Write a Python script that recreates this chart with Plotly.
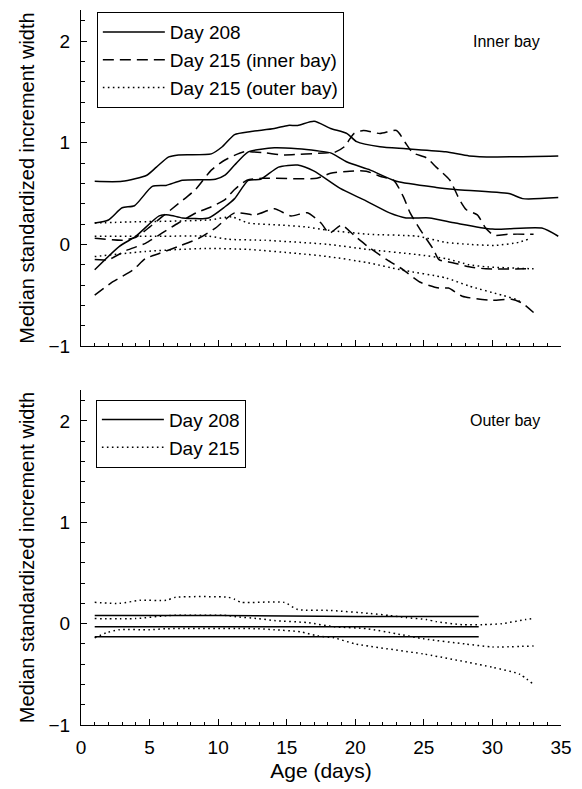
import plotly.graph_objects as go

# ---------------- Top panel (Inner bay) ----------------
in_s1_x = [1, 3, 4.8, 5.5, 6.4, 7.1, 9.5, 10.3, 11.2, 12.4, 14.1, 15.1, 15.8, 17.0, 18.2, 19.4, 20.1, 21.8, 23.7, 26.6, 28.3, 30.2, 34.8]
in_s1_y = [0.62, 0.62, 0.68, 0.76, 0.86, 0.88, 0.89, 0.96, 1.08, 1.11, 1.14, 1.17, 1.17, 1.21, 1.14, 1.09, 1.01, 0.96, 0.94, 0.91, 0.87, 0.86, 0.87]

in_s2_x = [1, 2, 3, 3.9, 5.2, 6.2, 7.4, 9.8, 10.5, 11.2, 12.2, 14.1, 15.8, 17.2, 18.2, 19.4, 21.1, 23.0, 25.9, 27.3, 31.2, 32.2, 34.8]
in_s2_y = [0.21, 0.24, 0.36, 0.38, 0.57, 0.58, 0.63, 0.64, 0.68, 0.78, 0.91, 0.95, 0.94, 0.92, 0.90, 0.81, 0.73, 0.62, 0.56, 0.54, 0.50, 0.45, 0.46]

in_s3_x = [1, 2.8, 4.0, 5.7, 6.4, 7.4, 9.3, 10.5, 11.2, 12.2, 13.1, 14.4, 15.8, 17.0, 18.9, 20.6, 22.5, 23.7, 25.4, 27.3, 30.0, 33.6, 34.8]
in_s3_y = [-0.25, -0.02, 0.08, 0.28, 0.29, 0.26, 0.26, 0.37, 0.45, 0.63, 0.64, 0.76, 0.78, 0.72, 0.55, 0.44, 0.31, 0.26, 0.26, 0.21, 0.15, 0.16, 0.08]

in_d1_x = [1, 3.05, 4.0, 5.0, 5.9, 7.1, 8.35, 9.5, 10.5, 11.9, 13.4, 14.8, 18.0, 18.4, 19.2, 19.9, 20.6, 21.8, 23.0, 23.7, 24.2, 25.2, 25.9, 26.9, 27.6, 28.1, 28.9, 29.5, 30.1, 31.2, 33.0]
in_d1_y = [0.06, 0.04, 0.07, 0.17, 0.27, 0.40, 0.54, 0.73, 0.83, 0.91, 0.90, 0.88, 0.90, 0.90, 0.96, 1.09, 1.12, 1.09, 1.12, 0.99, 0.90, 0.85, 0.76, 0.63, 0.44, 0.34, 0.29, 0.16, 0.09, 0.10, 0.10]

in_d2_x = [1, 2.0, 3.3, 4.7, 5.9, 7.1, 8.4, 9.5, 10.5, 11.2, 12.1, 13.2, 17.2, 18.2, 19.6, 20.8, 21.8, 22.8, 23.5, 24.0, 24.9, 25.7, 26.1, 27.1, 28.3, 29.5, 33.0]
in_d2_y = [-0.15, -0.15, -0.06, 0.01, 0.11, 0.21, 0.31, 0.37, 0.44, 0.54, 0.63, 0.65, 0.65, 0.70, 0.72, 0.72, 0.67, 0.63, 0.47, 0.31, 0.11, -0.05, -0.15, -0.18, -0.22, -0.24, -0.24]

in_d3_x = [1, 2.3, 3.8, 4.7, 5.7, 7.1, 8.6, 9.8, 11.2, 12.7, 14.1, 15.3, 16.5, 17.5, 18.1, 19.0, 19.9, 20.9, 22.3, 23.5, 24.7, 26.1, 26.8, 27.8, 30.0, 31.4, 32.2, 33.0]
in_d3_y = [-0.50, -0.37, -0.25, -0.14, -0.09, -0.02, 0.06, 0.16, 0.31, 0.29, 0.35, 0.28, 0.31, 0.21, 0.11, 0.19, 0.09, -0.02, -0.15, -0.25, -0.37, -0.43, -0.43, -0.51, -0.55, -0.54, -0.58, -0.67]

in_t1_x = [1, 3.5, 9.3, 11.0, 12.2, 14.6, 16.5, 18.0, 20.9, 24.5, 26.6, 28.3, 30.2, 31.9, 32.6]
in_t1_y = [0.21, 0.22, 0.24, 0.27, 0.21, 0.19, 0.17, 0.14, 0.10, 0.08, 0.02, 0.00, -0.01, 0.02, 0.05]

in_t2_x = [1, 5.9, 9.3, 10.75, 13.4, 18.0, 20.9, 24.5, 26.6, 28.3, 29.5, 32.9]
in_t2_y = [0.08, 0.08, 0.08, 0.05, 0.04, 0.00, -0.05, -0.10, -0.14, -0.20, -0.22, -0.24]

in_t3_x = [1, 4.7, 7.1, 9.3, 12.2, 15.8, 18.0, 20.9, 23.3, 26.6, 28.3, 30.7, 31.7, 32.2]
in_t3_y = [-0.12, -0.07, -0.05, -0.04, -0.05, -0.09, -0.12, -0.18, -0.25, -0.33, -0.41, -0.50, -0.54, -0.58]

# ---------------- Bottom panel (Outer bay) ----------------
out_s1_x = [1, 10, 20, 29]
out_s1_y = [0.08, 0.08, 0.07, 0.07]
out_s2_x = [1, 10, 20, 29]
out_s2_y = [-0.03, -0.03, -0.03, -0.03]
out_s3_x = [1, 10, 20, 29]
out_s3_y = [-0.13, -0.13, -0.13, -0.13]

out_t1_x = [1, 2.8, 4.3, 6.2, 6.9, 10.75, 11.2, 11.7, 14.8, 15.8, 18.2, 21.1, 22.5, 23.7, 25.2, 25.9, 27.8, 29.3, 30.7, 32.4, 33.0]
out_t1_y = [0.21, 0.20, 0.23, 0.23, 0.26, 0.26, 0.24, 0.21, 0.21, 0.14, 0.13, 0.10, 0.08, 0.06, 0.04, 0.02, -0.01, -0.01, 0.00, 0.04, 0.05]

out_t2_x = [1, 4.0, 6.4, 10.75, 11.2, 12.9, 14.1, 16.5, 18.45, 20.85, 23, 25, 28, 30, 33]
out_t2_y = [0.05, 0.05, 0.08, 0.08, 0.07, 0.05, 0.03, 0.01, -0.03, -0.05, -0.10, -0.15, -0.20, -0.23, -0.22]

out_t3_x = [1, 1.85, 2.8, 5.0, 6.2, 12.9, 14.1, 16.0, 17.2, 18.45, 20, 25, 30, 32, 33]
out_t3_y = [-0.14, -0.09, -0.06, -0.06, -0.05, -0.05, -0.06, -0.08, -0.12, -0.14, -0.20, -0.30, -0.43, -0.50, -0.60]

FONT = "Liberation Sans, Arial, sans-serif"
DASH = "11px,6px"
DOT = "1.6px,3.4px"
LW = 1.5

fig = go.Figure()

def add(x, y, dash, name, show, xa, ya, legend):
    fig.add_trace(go.Scatter(
        x=x, y=y, mode="lines", name=name, showlegend=show,
        line=dict(color="black", width=LW, dash=dash, shape="spline", smoothing=0.6),
        xaxis=xa, yaxis=ya, legend=legend, hoverinfo="skip"))

# top panel
add(in_s1_x, in_s1_y, "solid", "Day 208", True, "x2", "y2", "legend")
add(in_s2_x, in_s2_y, "solid", "Day 208", False, "x2", "y2", "legend")
add(in_s3_x, in_s3_y, "solid", "Day 208", False, "x2", "y2", "legend")
add(in_d1_x, in_d1_y, DASH, "Day 215 (inner bay)", True, "x2", "y2", "legend")
add(in_d2_x, in_d2_y, DASH, "Day 215 (inner bay)", False, "x2", "y2", "legend")
add(in_d3_x, in_d3_y, DASH, "Day 215 (inner bay)", False, "x2", "y2", "legend")
add(in_t1_x, in_t1_y, DOT, "Day 215 (outer bay)", True, "x2", "y2", "legend")
add(in_t2_x, in_t2_y, DOT, "Day 215 (outer bay)", False, "x2", "y2", "legend")
add(in_t3_x, in_t3_y, DOT, "Day 215 (outer bay)", False, "x2", "y2", "legend")

# bottom panel
add(out_s1_x, out_s1_y, "solid", "Day 208", True, "x", "y", "legend2")
add(out_s2_x, out_s2_y, "solid", "Day 208", False, "x", "y", "legend2")
add(out_s3_x, out_s3_y, "solid", "Day 208", False, "x", "y", "legend2")
add(out_t1_x, out_t1_y, DOT, "Day 215", True, "x", "y", "legend2")
add(out_t2_x, out_t2_y, DOT, "Day 215", False, "x", "y", "legend2")
add(out_t3_x, out_t3_y, DOT, "Day 215", False, "x", "y", "legend2")

yrange = [-1, 2.305]
common_y = dict(range=yrange, dtick=1, tick0=0, ticks="inside", ticklen=6, tickwidth=1,
                tickcolor="black", showline=True, linecolor="black", linewidth=1,
                showgrid=False, zeroline=False, ticklabelstandoff=6,
                minor=dict(dtick=0.2, tick0=0, ticks="inside", ticklen=4, tickcolor="black", showgrid=False),
                tickfont=dict(size=19, color="black"),
                title=dict(text="Median standardized increment width", font=dict(size=20, color="black"), standoff=8))
common_x = dict(range=[0, 35], dtick=5, tick0=0, ticks="inside", ticklen=6, tickwidth=1,
                tickcolor="black", showline=True, linecolor="black", linewidth=1,
                showgrid=False, zeroline=False, ticklabelstandoff=5,
                minor=dict(dtick=1, tick0=0, ticks="inside", ticklen=3, tickcolor="black", showgrid=False),
                tickfont=dict(size=19, color="black"))

fig.update_layout(
    width=582, height=789,
    margin=dict(l=81, r=16, t=10, b=64),
    paper_bgcolor="white", plot_bgcolor="white",
    font=dict(family=FONT, color="black"),
    xaxis=dict(common_x, domain=[0, 1], anchor="y",
               title=dict(text="Age (days)", font=dict(size=21, color="black"), standoff=6)),
    yaxis=dict(common_y, domain=[0, 0.4685], anchor="x"),
    xaxis2=dict(common_x, domain=[0, 1], anchor="y2", showticklabels=False),
    yaxis2=dict(common_y, domain=[0.530, 1], anchor="x2"),
    legend=dict(x=0.033, y=0.997, xanchor="left", yanchor="top", xref="paper", yref="paper",
                bordercolor="black", borderwidth=1, bgcolor="white",
                font=dict(size=19, color="black"), tracegroupgap=0, itemwidth=62),
    legend2=dict(x=0.031, y=0.455, xanchor="left", yanchor="top", xref="paper", yref="paper",
                 bordercolor="black", borderwidth=1, bgcolor="white",
                 font=dict(size=19, color="black"), tracegroupgap=0, itemwidth=62),
    annotations=[
        dict(text="Inner bay", x=33.6, y=2.0, xref="x2", yref="y2", xanchor="right", yanchor="middle",
             showarrow=False, font=dict(size=16, color="black")),
        dict(text="Outer bay", x=33.6, y=2.0, xref="x", yref="y", xanchor="right", yanchor="middle",
             showarrow=False, font=dict(size=16, color="black")),
    ],
)

fig.write_html("out.html")
